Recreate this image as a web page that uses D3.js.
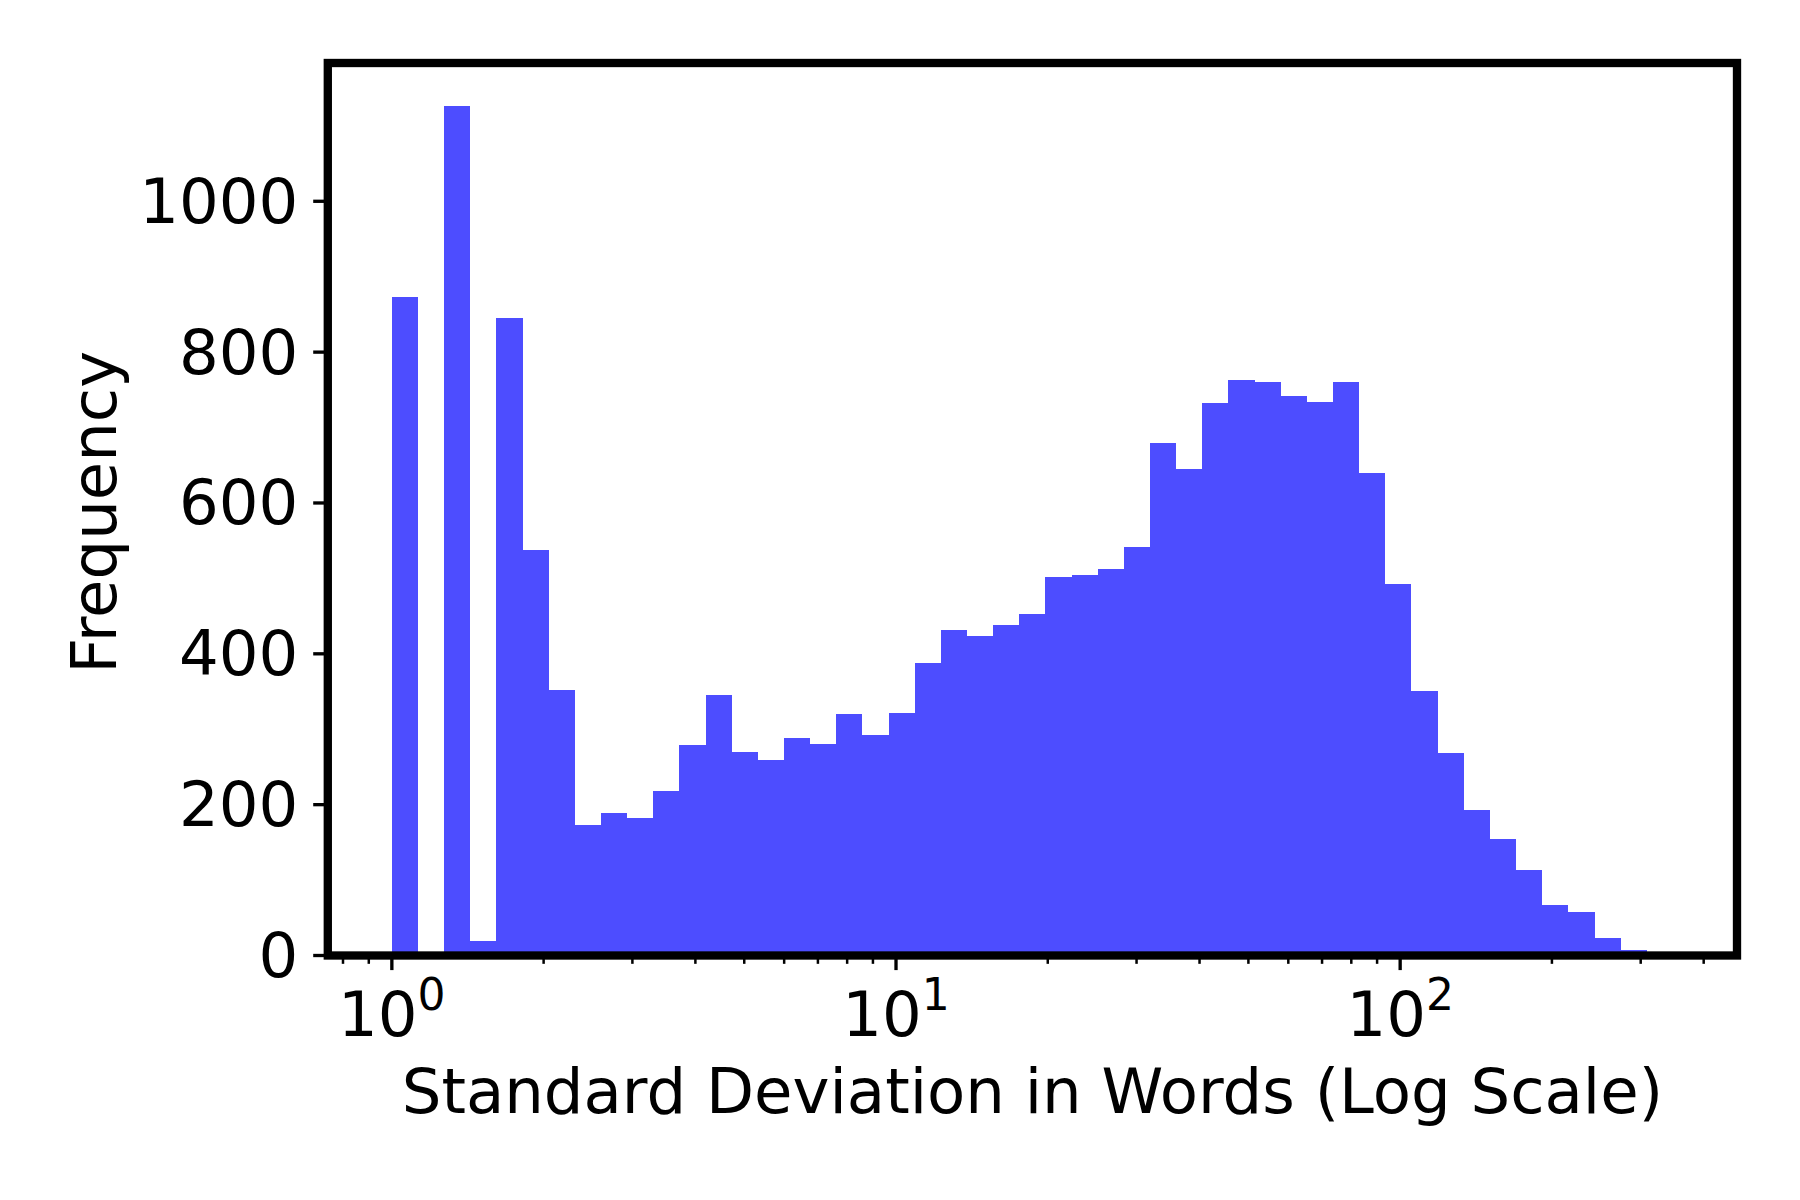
<!DOCTYPE html>
<html><head><meta charset="utf-8">
<script src="https://cdn.jsdelivr.net/npm/d3@7"></script>
<style>body{margin:0;background:#fff}</style>
</head><body><svg id="c" width="1800" height="1200" xmlns="http://www.w3.org/2000/svg"></svg>
<script>
// ---- data ----
const counts = [873, 0, 1127, 19, 845, 537, 352, 173, 189, 182,
                218, 279, 346, 270, 259, 288, 281, 320, 292, 322,
                388, 432, 423, 438, 453, 502, 505, 513, 541, 680,
                645, 733, 763, 761, 742, 734, 761, 640, 493, 351,
                269, 193, 155, 113, 67, 58, 23, 7, 2];
const minValue = 1;
const maxValue = 347.6;
const binCount = 49;
const yTicks = [0, 200, 400, 600, 800, 1000];
const xMajorExponents = [0, 1, 2];
const xLabel = "Standard Deviation in Words (Log Scale)";
const yLabel = "Frequency";

// ---- layout ----
const L = 327.8, R = 1737, T = 63, B = 955.5;
const FONT = "'DejaVu Sans', sans-serif";
const FS = 62.5;
const barColor = "#4d4dff";

const svg = d3.select("#c");
svg.append("rect").attr("width", 1800).attr("height", 1200).attr("fill", "#fff");

const lmin = Math.log10(minValue), lmax = Math.log10(maxValue), span = lmax - lmin;
const edges = d3.range(binCount + 1).map(i => Math.pow(10, lmin + span * i / binCount));
const x = d3.scaleLog()
  .domain([Math.pow(10, lmin - 0.05 * span), Math.pow(10, lmax + 0.05 * span)])
  .range([L, R]);
const y = d3.scaleLinear().domain([0, d3.max(counts) * 1.05]).range([B, T]);

const bins = counts.map((c, i) => ({c, x0: edges[i], x1: edges[i + 1]}));
svg.append("g").selectAll("rect").data(bins.filter(d => d.c > 0)).join("rect")
  .attr("x", d => x(d.x0))
  .attr("width", d => x(d.x1) - x(d.x0))
  .attr("y", d => y(d.c))
  .attr("height", d => y(0) - y(d.c))
  .attr("fill", barColor)
  .attr("shape-rendering", "crispEdges");

// ---- y axis ----
const gy = svg.append("g");
yTicks.forEach(t => {
  gy.append("line").attr("x1", L - 14.6).attr("x2", L).attr("y1", y(t)).attr("y2", y(t))
    .attr("stroke", "#000").attr("stroke-width", 3.33);
  gy.append("text").attr("x", L - 29.5).attr("y", y(t))
    .attr("text-anchor", "end").attr("dominant-baseline", "central")
    .attr("font-family", FONT).attr("font-size", FS).attr("fill", "#000")
    .text(t);
});

// ---- x axis ----
const gx = svg.append("g");
const [d0, d1] = x.domain();
x.ticks().filter(t => t >= d0 && t <= d1).forEach(t => {
  const lg = Math.log10(t);
  const major = Math.abs(lg - Math.round(lg)) < 1e-9;
  gx.append("line").attr("x1", x(t)).attr("x2", x(t))
    .attr("y1", B).attr("y2", B + (major ? 14.6 : 8.33))
    .attr("stroke", "#000").attr("stroke-width", major ? 3.33 : 2.5);
});
xMajorExponents.forEach(e => {
  const tx = gx.append("text").attr("x", x(Math.pow(10, e))).attr("y", 1036)
    .attr("text-anchor", "middle")
    .attr("font-family", FONT).attr("font-size", FS).attr("fill", "#000");
  tx.append("tspan").text("10");
  tx.append("tspan").attr("dy", -26).attr("font-size", 44).text(e);
});

// ---- frame ----
svg.append("rect").attr("x", L).attr("y", T).attr("width", R - L).attr("height", B - T)
  .attr("fill", "none").attr("stroke", "#000").attr("stroke-width", 8.33)
  .attr("stroke-linejoin", "miter");

// ---- axis labels ----
svg.append("text").attr("x", (L + R) / 2).attr("y", 1112.7)
  .attr("text-anchor", "middle").attr("font-family", FONT).attr("font-size", FS)
  .attr("fill", "#000").text(xLabel);
svg.append("text").attr("transform", `translate(116,${(T + B) / 2 + 3}) rotate(-90)`)
  .attr("text-anchor", "middle").attr("font-family", FONT).attr("font-size", FS)
  .attr("fill", "#000").text(yLabel);
</script>
</body></html>
